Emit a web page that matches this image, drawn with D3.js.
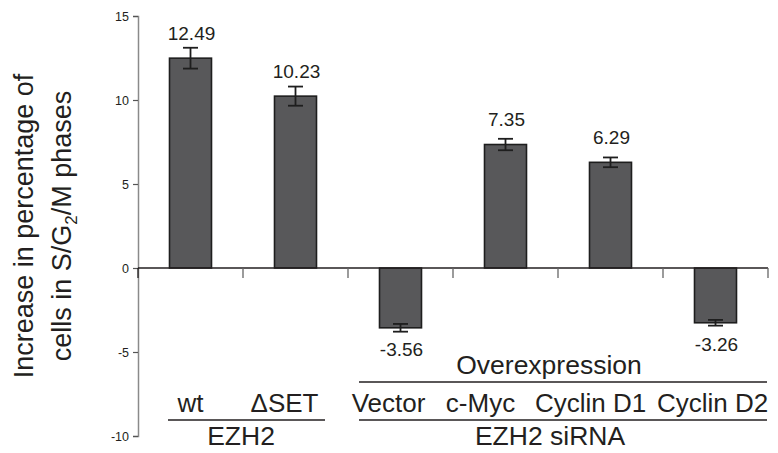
<!DOCTYPE html>
<html>
<head>
<meta charset="utf-8">
<script src="https://cdn.jsdelivr.net/npm/d3@7"></script>
<style>
  body { margin: 0; background: #fff; }
  svg { display: block; font-family: "Liberation Sans", Arial, sans-serif; }
</style>
</head>
<body>
<div id="chart"></div>
<script>
// Chart data
const categories = ["wt", "\u0394SET", "Vector", "c-Myc", "Cyclin D1", "Cyclin D2"];
const values = [12.49, 10.23, -3.56, 7.35, 6.29, -3.26];
const errors = [0.62, 0.57, 0.23, 0.34, 0.29, 0.17];
const yTicks = [-10, -5, 0, 5, 10, 15];
const groupLabels = ["EZH2", "EZH2 siRNA"];
const groupRanges = [[0, 1], [2, 5]];
const subgroupLabel = "Overexpression";
const subgroupRange = [2, 5];

const width = 778, height = 453;
const ink = "#231f20";

const svg = d3.select("#chart").append("svg")
    .attr("width", width)
    .attr("height", height);

svg.append("rect").attr("width", width).attr("height", height).attr("fill", "#fff");

// Scales
const x = d3.scaleBand()
    .domain(categories)
    .range([138, 768])
    .padding(0);

const y = d3.scaleLinear()
    .domain([-10, 15])
    .range([436, 16]);

const barW = x.bandwidth() * 0.4;

// Y axis
const yAxis = svg.append("g")
    .attr("transform", "translate(138,0)")
    .call(d3.axisLeft(y).tickValues(yTicks).tickSize(5).tickPadding(4).tickFormat(d => String(d)));
yAxis.select(".domain").attr("stroke", "#8a8a8a").attr("stroke-width", 1.5);
yAxis.selectAll(".tick line").attr("stroke", "#555").attr("stroke-width", 1.2);
yAxis.selectAll(".tick text")
    .attr("font-size", "12.5px")
    .attr("fill", ink)
    .style("font-family", "'Liberation Sans', Arial, sans-serif");

// Bars
svg.selectAll(".bar")
    .data(values)
    .enter()
    .append("rect")
    .attr("class", "bar")
    .attr("x", (d, i) => x(categories[i]) + (x.bandwidth() - barW) / 2)
    .attr("y", d => y(Math.max(d, 0)))
    .attr("width", barW)
    .attr("height", d => Math.abs(y(d) - y(0)))
    .attr("fill", "#58585a")
    .attr("stroke", "#1e1e1e")
    .attr("stroke-width", 1.6);

// Error bars
const capW = 15;
const eb = svg.selectAll(".err")
    .data(values)
    .enter()
    .append("g")
    .attr("class", "err")
    .attr("stroke", "#1e1e1e")
    .attr("stroke-width", 1.8);
eb.append("line")
    .attr("x1", (d, i) => x(categories[i]) + x.bandwidth() / 2)
    .attr("x2", (d, i) => x(categories[i]) + x.bandwidth() / 2)
    .attr("y1", (d, i) => y(d + errors[i]))
    .attr("y2", (d, i) => y(d - errors[i]));
eb.append("line")
    .attr("x1", (d, i) => x(categories[i]) + x.bandwidth() / 2 - capW / 2)
    .attr("x2", (d, i) => x(categories[i]) + x.bandwidth() / 2 + capW / 2)
    .attr("y1", (d, i) => y(d + errors[i]))
    .attr("y2", (d, i) => y(d + errors[i]));
eb.append("line")
    .attr("x1", (d, i) => x(categories[i]) + x.bandwidth() / 2 - capW / 2)
    .attr("x2", (d, i) => x(categories[i]) + x.bandwidth() / 2 + capW / 2)
    .attr("y1", (d, i) => y(d - errors[i]))
    .attr("y2", (d, i) => y(d - errors[i]));

// Zero line with category ticks
svg.append("line")
    .attr("x1", 138).attr("x2", 768)
    .attr("y1", y(0)).attr("y2", y(0))
    .attr("stroke", ink).attr("stroke-width", 1.6);
const bounds = categories.map(c => x(c)).concat([x.range()[1]]);
svg.selectAll(".ctick")
    .data(bounds)
    .enter()
    .append("line")
    .attr("x1", d => d).attr("x2", d => d)
    .attr("y1", y(0)).attr("y2", y(0) + 10)
    .attr("stroke", d => d === 138 ? ink : "#666")
    .attr("stroke-width", 1.3);

// Value labels
svg.selectAll(".val")
    .data(values)
    .enter()
    .append("text")
    .attr("class", "val")
    .attr("x", (d, i) => x(categories[i]) + x.bandwidth() / 2 + 1)
    .attr("y", d => d >= 0 ? y(d) - 18.5 : y(d) + 28.5)
    .attr("text-anchor", "middle")
    .attr("font-size", "19px")
    .attr("fill", ink)
    .text(d => d.toFixed(2));

// Category labels (hand-nudged like the original figure)
const labelShift = [0, -11, -12, -25, -20, -3];
svg.selectAll(".cat")
    .data(categories)
    .enter()
    .append("text")
    .attr("class", "cat")
    .attr("x", (d, i) => x(d) + x.bandwidth() / 2 + labelShift[i])
    .attr("y", 412)
    .attr("text-anchor", "middle")
    .attr("font-size", "26px")
    .attr("fill", ink)
    .text(d => d);

// Overexpression bracket
const subX1 = x(categories[subgroupRange[0]]) + 11;
const subX2 = x(categories[subgroupRange[1]]) + x.bandwidth() - 1;
svg.append("line")
    .attr("x1", subX1).attr("x2", subX2)
    .attr("y1", 382).attr("y2", 382)
    .attr("stroke", ink).attr("stroke-width", 1.6);
svg.append("text")
    .attr("x", 549)
    .attr("y", 374)
    .attr("text-anchor", "middle")
    .attr("font-size", "26.5px")
    .attr("fill", ink)
    .text(subgroupLabel);

// Group brackets
const groupInset = [[30, 23], [11, 1]];
const groupTextX = [241, 550];
groupRanges.forEach((r, gi) => {
    const gx1 = x(categories[r[0]]) + groupInset[gi][0];
    const gx2 = x(categories[r[1]]) + x.bandwidth() - groupInset[gi][1];
    svg.append("line")
        .attr("x1", gx1).attr("x2", gx2)
        .attr("y1", 420).attr("y2", 420)
        .attr("stroke", ink).attr("stroke-width", 1.6);
    svg.append("text")
        .attr("x", groupTextX[gi])
        .attr("y", 445)
        .attr("text-anchor", "middle")
        .attr("font-size", "26.5px")
        .attr("fill", ink)
        .text(groupLabels[gi]);
});

// Y axis title (two lines, rotated)
svg.append("text")
    .attr("transform", "translate(33,226) rotate(-90)")
    .attr("text-anchor", "middle")
    .attr("font-size", "27px")
    .attr("fill", ink)
    .text("Increase in percentage of");
const t2 = svg.append("text")
    .attr("transform", "translate(71,226) rotate(-90)")
    .attr("text-anchor", "middle")
    .attr("font-size", "27px")
    .attr("fill", ink);
t2.append("tspan").text("cells in S/G");
t2.append("tspan").attr("font-size", "17px").attr("dy", 6).text("2");
t2.append("tspan").attr("dy", -6).text("/M phases");
</script>
</body>
</html>
